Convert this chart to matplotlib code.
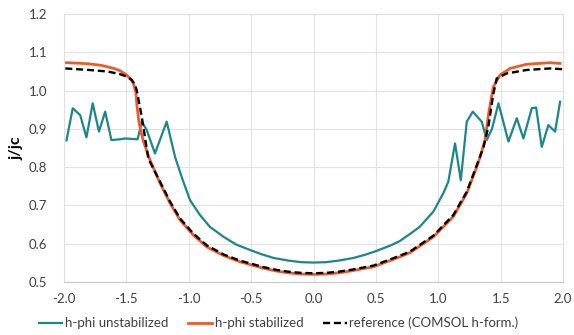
import numpy as np
import matplotlib
matplotlib.use("Agg")
import matplotlib.pyplot as plt

plt.rcParams['font.family'] = ['Lato', 'DejaVu Sans']

# h-phi unstabilized (noisy near the edges)
x_unstab = [-1.98, -1.93, -1.87, -1.82, -1.77, -1.72, -1.67, -1.62, -1.55, -1.51,
            -1.41, -1.377, -1.337, -1.271, -1.177, -1.11, -1.05, -0.99, -0.91, -0.83,
            -0.72, -0.62, -0.51, -0.42, -0.32, -0.2, -0.1, 0.0, 0.1, 0.2,
            0.32, 0.42, 0.51, 0.62, 0.69, 0.77, 0.85, 0.96, 1.04, 1.08,
            1.134, 1.18, 1.228, 1.276, 1.348, 1.388, 1.43, 1.482, 1.562, 1.629,
            1.682, 1.749, 1.784, 1.829, 1.882, 1.936, 1.976]
y_unstab = [0.870, 0.954, 0.936, 0.878, 0.967, 0.893, 0.945, 0.871, 0.873, 0.875,
            0.873, 0.919, 0.897, 0.836, 0.919, 0.827, 0.768, 0.714, 0.675, 0.644,
            0.618, 0.598, 0.584, 0.573, 0.563, 0.556, 0.552, 0.551, 0.552, 0.556,
            0.563, 0.572, 0.582, 0.596, 0.607, 0.625, 0.644, 0.684, 0.732, 0.762,
            0.862, 0.766, 0.919, 0.945, 0.919, 0.871, 0.900, 0.967, 0.867, 0.928,
            0.875, 0.954, 0.956, 0.853, 0.910, 0.893, 0.971]

# h-phi stabilized
x_stab = [-1.98, -1.9, -1.8, -1.7, -1.6, -1.55, -1.5, -1.47, -1.444, -1.425,
          -1.415, -1.40, -1.385, -1.364, -1.337, -1.311, -1.23, -1.15, -1.07, -0.964,
          -0.856, -0.72, -0.59, -0.5, -0.4, -0.3, -0.2, -0.1, 0.0, 0.1,
          0.2, 0.3, 0.48, 0.693, 0.774, 0.96, 1.12, 1.228, 1.308, 1.335,
          1.375, 1.401, 1.441, 1.495, 1.575, 1.709, 1.896, 1.976]
y_stab = [1.073, 1.072, 1.070, 1.066, 1.058, 1.052, 1.041, 1.032, 1.019, 0.997,
          0.960, 0.920, 0.895, 0.868, 0.843, 0.819, 0.758, 0.706, 0.662, 0.623,
          0.592, 0.569, 0.553, 0.545, 0.536, 0.529, 0.524, 0.521, 0.520, 0.521,
          0.524, 0.529, 0.540, 0.566, 0.577, 0.618, 0.671, 0.732, 0.801, 0.827,
          0.871, 0.936, 1.010, 1.041, 1.058, 1.069, 1.073, 1.071]

# reference (COMSOL h-formulation)
x_ref = [-1.99, -1.8, -1.65, -1.551, -1.5, -1.457, -1.43, -1.417, -1.377, -1.324,
         -1.23, -1.15, -1.07, -0.964, -0.856, -0.72, -0.59, -0.5, -0.4, -0.3,
         -0.2, -0.1, 0.0, 0.1, 0.2, 0.3, 0.48, 0.693, 0.774, 0.96,
         1.12, 1.228, 1.308, 1.36, 1.401, 1.44, 1.468, 1.549, 1.709, 1.896, 2.0]
y_ref = [1.058, 1.054, 1.050, 1.043, 1.037, 1.028, 1.015, 1.001, 0.932, 0.822,
         0.762, 0.710, 0.666, 0.627, 0.596, 0.572, 0.556, 0.548, 0.539, 0.532,
         0.527, 0.524, 0.523, 0.524, 0.527, 0.532, 0.543, 0.569, 0.580, 0.621,
         0.675, 0.736, 0.805, 0.850, 0.906, 0.990, 1.032, 1.045, 1.054, 1.058, 1.056]

teal = "#1b868c"
orange = "#ee5a2a"

fig = plt.figure(figsize=(5.74, 3.35), dpi=100)
ax = fig.add_axes([0.1115, 0.158, 0.8695, 0.8])

ax.plot(x_unstab, y_unstab, color=teal, lw=1.6, label="h-phi unstabilized")
ax.plot(x_stab, y_stab, color=orange, lw=2.0, label="h-phi stabilized")
ax.plot(x_ref, y_ref, color="black", lw=1.7, ls=(0, (3, 1.6)),
        label="reference (COMSOL h-form.)")

ax.set_xlim(-2.0, 2.0)
ax.set_ylim(0.5, 1.2)
ax.set_xticks(np.arange(-2.0, 2.01, 0.5))
ax.set_yticks(np.arange(0.5, 1.21, 0.1))
ax.set_xticklabels([f"{v:.1f}" for v in np.arange(-2.0, 2.01, 0.5)])
ax.set_yticklabels([f"{v:.1f}" for v in np.arange(0.5, 1.21, 0.1)])
ax.grid(True, color="#e3e3e3", lw=0.8)
ax.set_axisbelow(True)
for s in ax.spines.values():
    s.set_color("#e0e0e0")
    s.set_linewidth(0.8)
ax.spines['bottom'].set_color("#c8c8c8")
ax.tick_params(axis='x', length=0, labelsize=9.5, colors="#404040", pad=8)
ax.tick_params(axis='y', length=0, labelsize=9.5, colors="#404040", pad=12)

ax.set_ylabel("j/jc", fontsize=11.5, fontweight="bold", labelpad=4)

ax.legend(loc="upper center", bbox_to_anchor=(0.43, -0.085), ncol=3, frameon=False,
          fontsize=9.5, handlelength=1.8, handletextpad=0.2, columnspacing=1.5,
          labelcolor="#404040")

fig.savefig("out.png", dpi=100)
